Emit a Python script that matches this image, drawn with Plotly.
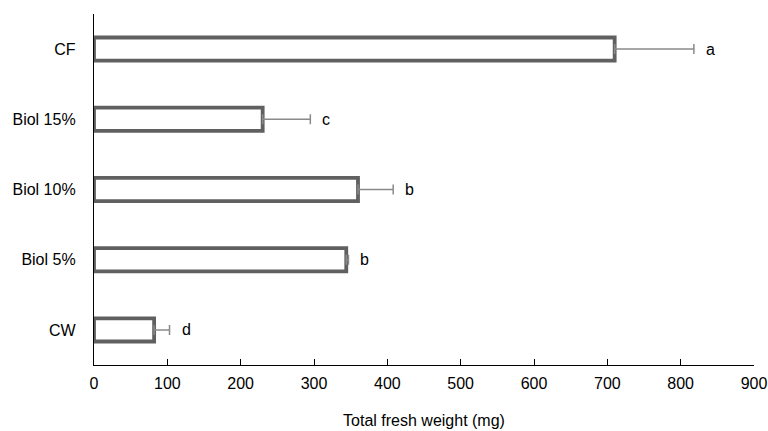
import plotly.graph_objects as go

categories = ["CW", "Biol 5%", "Biol 10%", "Biol 15%", "CF"]
fresh_weight = [82, 344, 360, 230, 710]
error_plus = [21, 3, 48, 65, 108]
letters = ["d", "b", "b", "c", "a"]
x_ticks = [0, 100, 200, 300, 400, 500, 600, 700, 800, 900]

FONT = "Liberation Sans, Arial, sans-serif"

fig = go.Figure()
fig.add_trace(go.Bar(
    y=categories,
    x=fresh_weight,
    orientation="h",
    width=0.33,
    marker=dict(color="white", line=dict(color="#606060", width=3.8)),
    error_x=dict(type="data", symmetric=False, array=error_plus,
                 arrayminus=[0] * len(error_plus),
                 color="#8a8a8a", thickness=1.5, width=5),
    showlegend=False,
))

for cat, v, e, lab in zip(categories, fresh_weight, error_plus, letters):
    fig.add_annotation(x=v + e, y=cat, text=lab, showarrow=False,
                       xanchor="left", xshift=10,
                       font=dict(family=FONT, size=16, color="black"))

fig.update_layout(
    width=768, height=431,
    margin=dict(l=94, r=14, t=14, b=66),
    paper_bgcolor="white", plot_bgcolor="white",
    font=dict(family=FONT, size=16, color="black"),
    xaxis=dict(range=[0, 900], tickvals=x_ticks, ticks="inside", ticklen=6,
               tickcolor="black", tickwidth=1.3, automargin=False,
               ticklabelstandoff=4,
               showline=True, linecolor="black", linewidth=1.3,
               showgrid=False, zeroline=False,
               title=dict(text="Total fresh weight (mg)", standoff=23,
                          font=dict(size=16))),
    yaxis=dict(range=[-0.5, 4.5], showline=True, linecolor="black",
               linewidth=1.3, showgrid=False, zeroline=False, ticks="",
               automargin=False, ticklabelstandoff=14),
)

fig.write_html("out.html",
               config={"displayModeBar": False},
               post_script="document.body.style.margin='0';"
                           "document.body.style.overflow='hidden';")
